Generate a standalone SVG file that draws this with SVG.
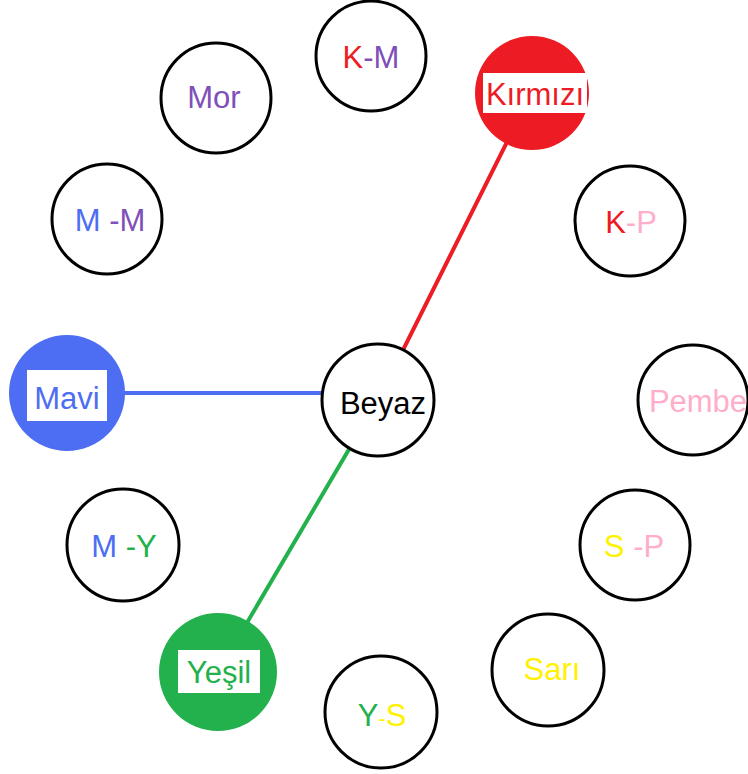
<svg xmlns="http://www.w3.org/2000/svg" width="748" height="774" viewBox="0 0 748 774">
<style>
.n{fill:#fff;stroke:#000;stroke-width:3}
.t{font-family:"Liberation Sans",Arial,sans-serif;font-size:31px;text-anchor:middle}
.lbl{fill:#fff}
.r{fill:#ED1C24}.b{fill:#4D6DF3}.g{fill:#22B14C}.y{fill:#FFF200}.p{fill:#FFAEC9}.m{fill:#7F50B8}.k{fill:#000}
</style>
<rect width="748" height="774" fill="#fff"/>
<g id="connectors" stroke-width="4" fill="none">
<line x1="378" y1="400" x2="532" y2="92" stroke="#ED1C24"/>
<line x1="67" y1="393" x2="378" y2="393" stroke="#4D6DF3"/>
<line x1="378" y1="400" x2="218" y2="672" stroke="#22B14C"/>
</g>
<g id="KM"><circle class="n" cx="371" cy="56" r="55"/><text class="t" x="371" y="68"><tspan class="r">K</tspan><tspan class="m">-M</tspan></text></g>
<g id="Mor"><circle class="n" cx="216" cy="98" r="55"/><text class="t m" x="214" y="108">Mor</text></g>
<g id="Kirmizi"><circle cx="532" cy="93" r="57" fill="#ED1C24"/><rect class="lbl" x="483" y="73" width="104" height="40"/><text class="t r" x="535" y="105">Kırmızı</text></g>
<g id="MM"><circle class="n" cx="107" cy="219" r="55"/><text class="t" x="110" y="231"><tspan class="b">M </tspan><tspan class="m">-M</tspan></text></g>
<g id="KP"><circle class="n" cx="630" cy="221" r="55"/><text class="t" x="631" y="233"><tspan class="r">K</tspan><tspan class="p">-P</tspan></text></g>
<g id="Mavi"><circle cx="67" cy="393" r="58" fill="#4D6DF3"/><rect class="lbl" x="27" y="370" width="80" height="51"/><text class="t b" x="67" y="409">Mavi</text></g>
<g id="Beyaz"><circle class="n" cx="378" cy="400" r="56"/><text class="t k" x="383" y="414">Beyaz</text></g>
<g id="Pembe"><circle class="n" cx="693" cy="400" r="55"/><text class="t p" x="698" y="412">Pembe</text></g>
<g id="MY"><circle class="n" cx="123" cy="545" r="56"/><text class="t" x="124" y="557"><tspan class="b">M </tspan><tspan class="g">-Y</tspan></text></g>
<g id="SP"><circle class="n" cx="635" cy="545" r="55"/><text class="t" x="634" y="557"><tspan class="y">S </tspan><tspan class="p">-P</tspan></text></g>
<g id="Yesil"><circle cx="218" cy="672" r="59" fill="#22B14C"/><rect class="lbl" x="178" y="650" width="82" height="43"/><text class="t g" x="219" y="683">Yeşil</text></g>
<g id="YS"><circle class="n" cx="381" cy="712" r="56"/><text class="t" x="382" y="726"><tspan class="g">Y</tspan><tspan class="y" font-size="22">-</tspan><tspan class="y">S</tspan></text></g>
<g id="Sari"><circle class="n" cx="548" cy="670" r="56"/><text class="t y" x="552" y="680">Sarı</text></g>
</svg>
